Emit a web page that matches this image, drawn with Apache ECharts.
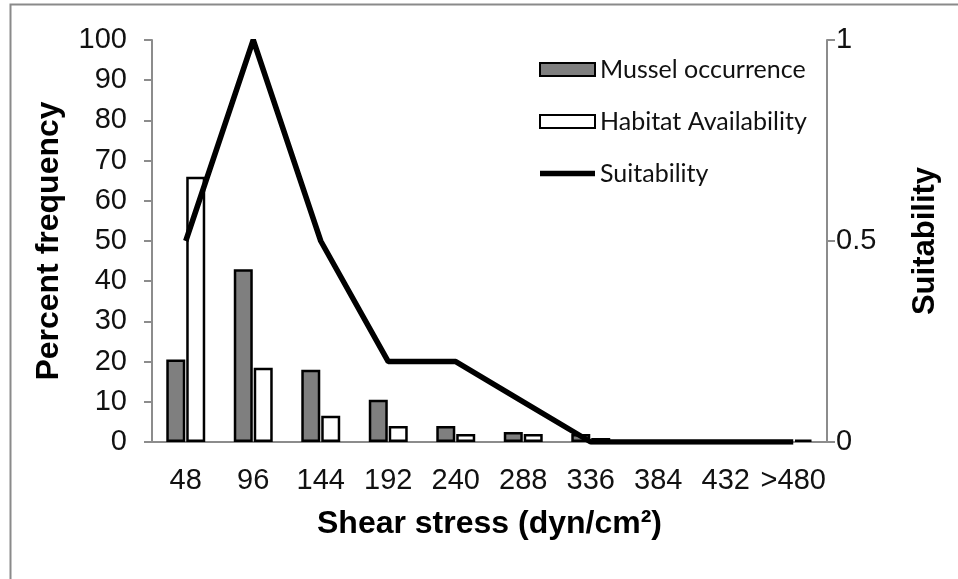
<!DOCTYPE html>
<html>
<head>
<meta charset="utf-8">
<script src="https://cdn.jsdelivr.net/npm/echarts@6/dist/echarts.min.js"></script>
<style>html,body{margin:0;padding:0;background:#fff}#c{width:958px;height:579px}</style>
</head>
<body>
<div id="c"></div>
<script>
const categories = ['48','96','144','192','240','288','336','384','432','>480'];
const musselOccurrence = [20.5, 43, 18, 10.5, 4, 2.5, 2, 0, 0, 0];
const habitatAvailability = [66, 18.5, 6.5, 4, 2, 2, 1, 0.3, 0.3, 0.6];
const suitability = [0.5, 1.0, 0.5, 0.2, 0.2, 0.1, 0, 0, 0, 0];
const leftTicks = {min: 0, max: 100, interval: 10};
const rightTicks = {min: 0, max: 1, interval: 0.5};

const chart = echarts.init(document.getElementById('c'));
const axisGrey = '#8c8c8c';
const font = '"Liberation Sans", Arial, sans-serif';
chart.setOption({
  animation: false,
  backgroundColor: '#fff',
  graphic: [{
    type: 'rect', left: 8, top: 2, shape: {width: 960, height: 576},
    style: {fill: 'none', stroke: '#8a8a8a', lineWidth: 2}, silent: true, z: -1
  }],
  grid: {left: 152, right: 131, top: 40, bottom: 137},
  legend: {
    orient: 'vertical', left: 534, top: 52, itemWidth: 55, itemHeight: 13, itemGap: 27,
    textStyle: {fontFamily: 'Lato, Carlito, sans-serif', fontSize: 25, color: '#111'},
    data: [
      {name: 'Mussel occurrence', icon: 'rect'},
      {name: 'Habitat Availability', icon: 'rect'},
      {name: 'Suitability', icon: 'path://M0,0H55V5.5H0Z', itemStyle: {color: '#000'}}
    ]
  },
  xAxis: {
    type: 'category', data: categories,
    name: 'Shear stress (dyn/cm²)', nameLocation: 'middle', nameGap: 66,
    nameTextStyle: {fontFamily: font, fontSize: 32, fontWeight: 'bold', color: '#000'},
    axisLine: {lineStyle: {color: axisGrey, width: 2}},
    axisTick: {length: 8, lineStyle: {color: axisGrey, width: 2}},
    axisLabel: {fontFamily: font, fontSize: 29, color: '#111', margin: 24, interval: 0}
  },
  yAxis: [{
    type: 'value', min: leftTicks.min, max: leftTicks.max, interval: leftTicks.interval,
    name: 'Percent frequency', nameLocation: 'middle', nameGap: 87, nameRotate: 90,
    nameTextStyle: {fontFamily: font, fontSize: 32, fontWeight: 'bold', color: '#000'},
    axisLine: {show: true, lineStyle: {color: axisGrey, width: 2}},
    axisTick: {show: true, length: 8, lineStyle: {color: axisGrey, width: 2}},
    splitLine: {show: false},
    axisLabel: {fontFamily: font, fontSize: 29, color: '#111', margin: 25}
  }, {
    type: 'value', min: rightTicks.min, max: rightTicks.max, interval: rightTicks.interval,
    name: 'Suitability', nameLocation: 'middle', nameGap: 83, nameRotate: 90,
    nameTextStyle: {fontFamily: font, fontSize: 31, fontWeight: 'bold', color: '#000'},
    axisLine: {show: true, lineStyle: {color: axisGrey, width: 2}},
    axisTick: {show: true, length: 8, lineStyle: {color: axisGrey, width: 2}},
    splitLine: {show: false},
    axisLabel: {fontFamily: font, fontSize: 29, color: '#111', margin: 9}
  }],
  series: [{
    name: 'Mussel occurrence', type: 'bar', data: musselOccurrence, barWidth: 19, barGap: '5%',
    itemStyle: {color: '#7f7f7f', borderColor: '#000', borderWidth: 2.5}
  }, {
    name: 'Habitat Availability', type: 'bar', data: habitatAvailability, barWidth: 19,
    itemStyle: {color: '#fff', borderColor: '#000', borderWidth: 2.5}
  }, {
    name: 'Suitability', type: 'line', yAxisIndex: 1, data: suitability, symbol: 'none',
    lineStyle: {color: '#000', width: 5.5}, itemStyle: {color: '#000'}, z: 5
  }]
});
</script>
</body>
</html>
